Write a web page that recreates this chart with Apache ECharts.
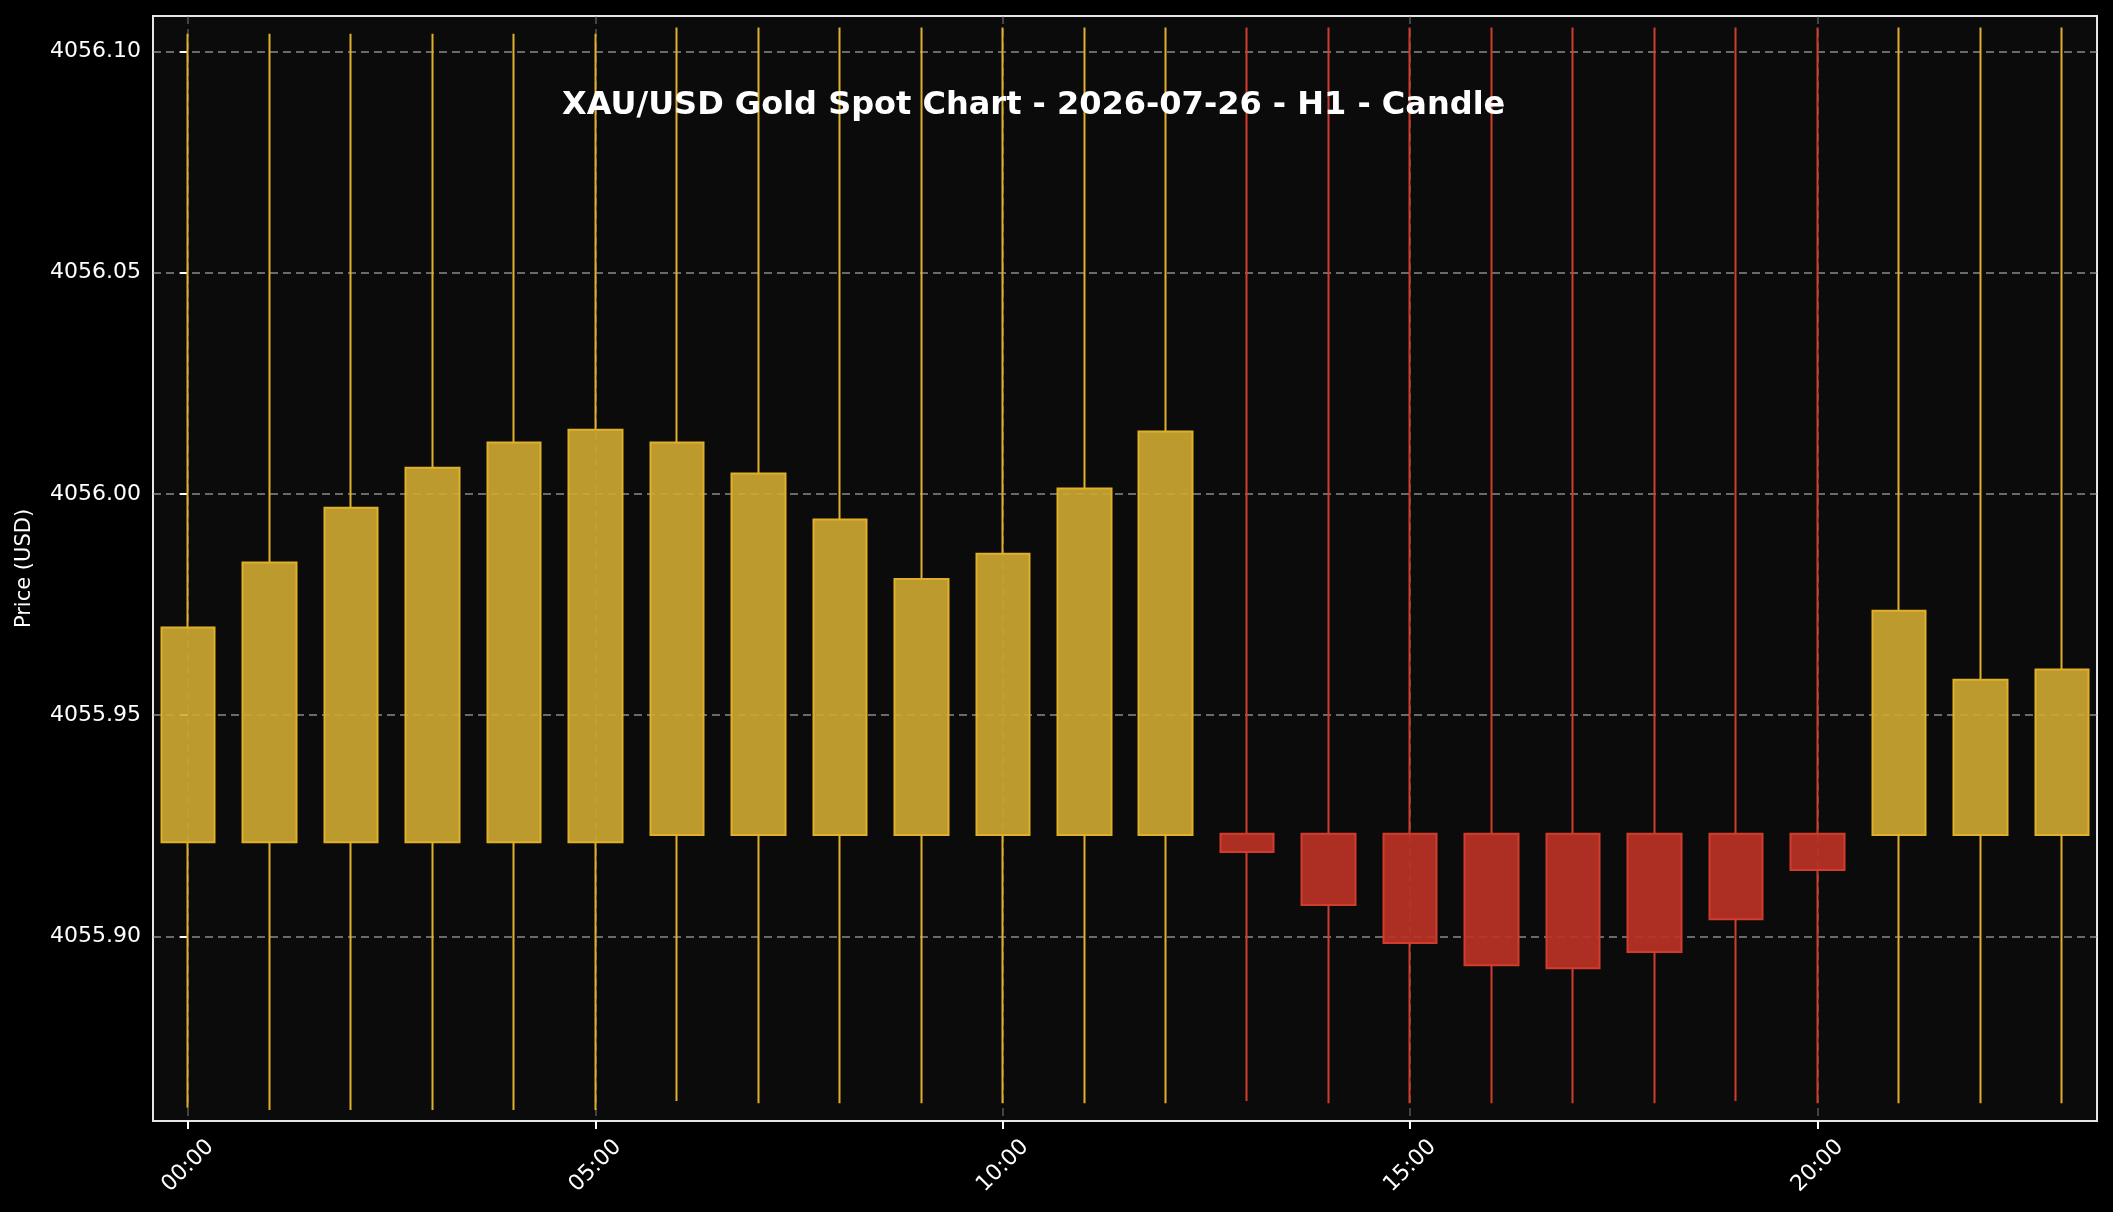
<!DOCTYPE html>
<html>
<head>
<meta charset="utf-8">
<title>XAU/USD H1 Candle</title>
<script src="https://cdn.jsdelivr.net/npm/echarts@6/dist/echarts.min.js"></script>
<style>
  html, body { margin: 0; padding: 0; background: #000; }
  #chart { width: 2113px; height: 1212px; }
</style>
</head>
<body>
<div id="chart"></div>
<script>
// hourly bars, 2026-07-26
var hours = ['00:00', '01:00', '02:00', '03:00', '04:00', '05:00', '06:00', '07:00',
  '08:00', '09:00', '10:00', '11:00', '12:00', '13:00', '14:00', '15:00',
  '16:00', '17:00', '18:00', '19:00', '20:00', '21:00', '22:00', '23:00'];
var opens = [4055.9213, 4055.9213, 4055.9213, 4055.9213, 4055.9213, 4055.9213,
  4055.9229, 4055.9229, 4055.9229, 4055.9229, 4055.9229, 4055.9229, 4055.9229,
  4055.9232, 4055.9232, 4055.9232, 4055.9232, 4055.9232, 4055.9232, 4055.9232, 4055.9232,
  4055.9229, 4055.9229, 4055.9229];
var closes = [4055.9698, 4055.9845, 4055.9969, 4056.0059, 4056.0116, 4056.0145,
  4056.0116, 4056.0046, 4055.9942, 4055.9808, 4055.9865, 4056.0012, 4056.0141,
  4055.9191, 4055.9071, 4055.8985, 4055.8935, 4055.8928, 4055.8965, 4055.9039, 4055.9150,
  4055.9736, 4055.9580, 4055.9603];
var highs = [4056.1040, 4056.1040, 4056.1040, 4056.1040, 4056.1040, 4056.1040,
  4056.1054, 4056.1054, 4056.1054, 4056.1054, 4056.1054, 4056.1054, 4056.1054,
  4056.1054, 4056.1054, 4056.1054, 4056.1054, 4056.1054, 4056.1054, 4056.1054, 4056.1054,
  4056.1054, 4056.1054, 4056.1054];
var lows = [4055.8613, 4055.8608, 4055.8608, 4055.8608, 4055.8608, 4055.8608,
  4055.8628, 4055.8623, 4055.8623, 4055.8623, 4055.8623, 4055.8623, 4055.8623,
  4055.8628, 4055.8623, 4055.8623, 4055.8623, 4055.8623, 4055.8623, 4055.8628, 4055.8623,
  4055.8623, 4055.8623, 4055.8623];
var xTicks = [0, 5, 10, 15, 20];
var yTicks = [4055.90, 4055.95, 4056.00, 4056.05, 4056.10];

(function() {
  var myChart = echarts.init(document.getElementById('chart'));

  // [x, open, close, low, high]
  var candles = hours.map(function(h, i) {
    return [i, opens[i], closes[i], lows[i], highs[i]];
  });

  var font = 'DejaVu Sans';

  var option = {
    backgroundColor: '#000000',
    animation: false,
    title: {
      text: 'XAU/USD Gold Spot Chart - 2026-07-26 - H1 - Candle',
      left: 557,
      top: 85,
      textStyle: { color: '#ffffff', fontSize: 32, fontWeight: 'bold', fontFamily: font }
    },
    grid: {
      left: 153,
      right: 16,
      top: 16,
      bottom: 91,
      show: true,
      backgroundColor: '#0b0b0b',
      borderColor: '#e6e6e6',
      borderWidth: 2
    },
    xAxis: {
      type: 'value',
      min: -0.43,
      max: 23.43,
      axisLine: { show: false },
      axisTick: {
        show: true,
        customValues: xTicks,
        length: 8,
        lineStyle: { color: '#ffffff', width: 2 }
      },
      axisLabel: {
        customValues: xTicks,
        rotate: 45,
        align: 'center',
        verticalAlign: 'middle',
        margin: 45,
        color: '#ffffff',
        fontSize: 22,
        fontFamily: font,
        formatter: function(v) { return hours[Math.round(v)]; }
      },
      splitLine: {
        show: true,
        lineStyle: { color: 'rgba(150,150,150,0.55)', type: [8, 5], width: 1.5 }
      }
    },
    yAxis: {
      type: 'value',
      min: 4055.8583,
      max: 4056.108,
      scale: true,
      name: 'Price (USD)',
      nameLocation: 'middle',
      nameGap: 118,
      nameTextStyle: { color: '#ffffff', fontSize: 21, fontFamily: font },
      axisLine: { show: false },
      axisTick: {
        show: true,
        customValues: yTicks,
        length: 8,
        lineStyle: { color: '#ffffff', width: 2 }
      },
      axisLabel: {
        customValues: yTicks,
        margin: 12,
        color: '#ffffff',
        fontSize: 22,
        fontFamily: font,
        formatter: function(v) { return v.toFixed(2); }
      },
      splitLine: {
        show: true,
        lineStyle: { color: 'rgba(170,170,170,0.8)', type: [8, 5], width: 1.5 }
      }
    },
    series: [
      {
        name: 'XAU/USD',
        type: 'candlestick',
        barWidth: 54,
        data: candles,
        itemStyle: {
          color: 'rgba(208,170,50,0.9)',
          color0: 'rgba(188,50,38,0.92)',
          borderColor: '#e0b02a',
          borderColor0: '#d23c2c',
          borderWidth: 2
        }
      }
    ]
  };

  myChart.setOption(option);
})();
</script>
</body>
</html>
